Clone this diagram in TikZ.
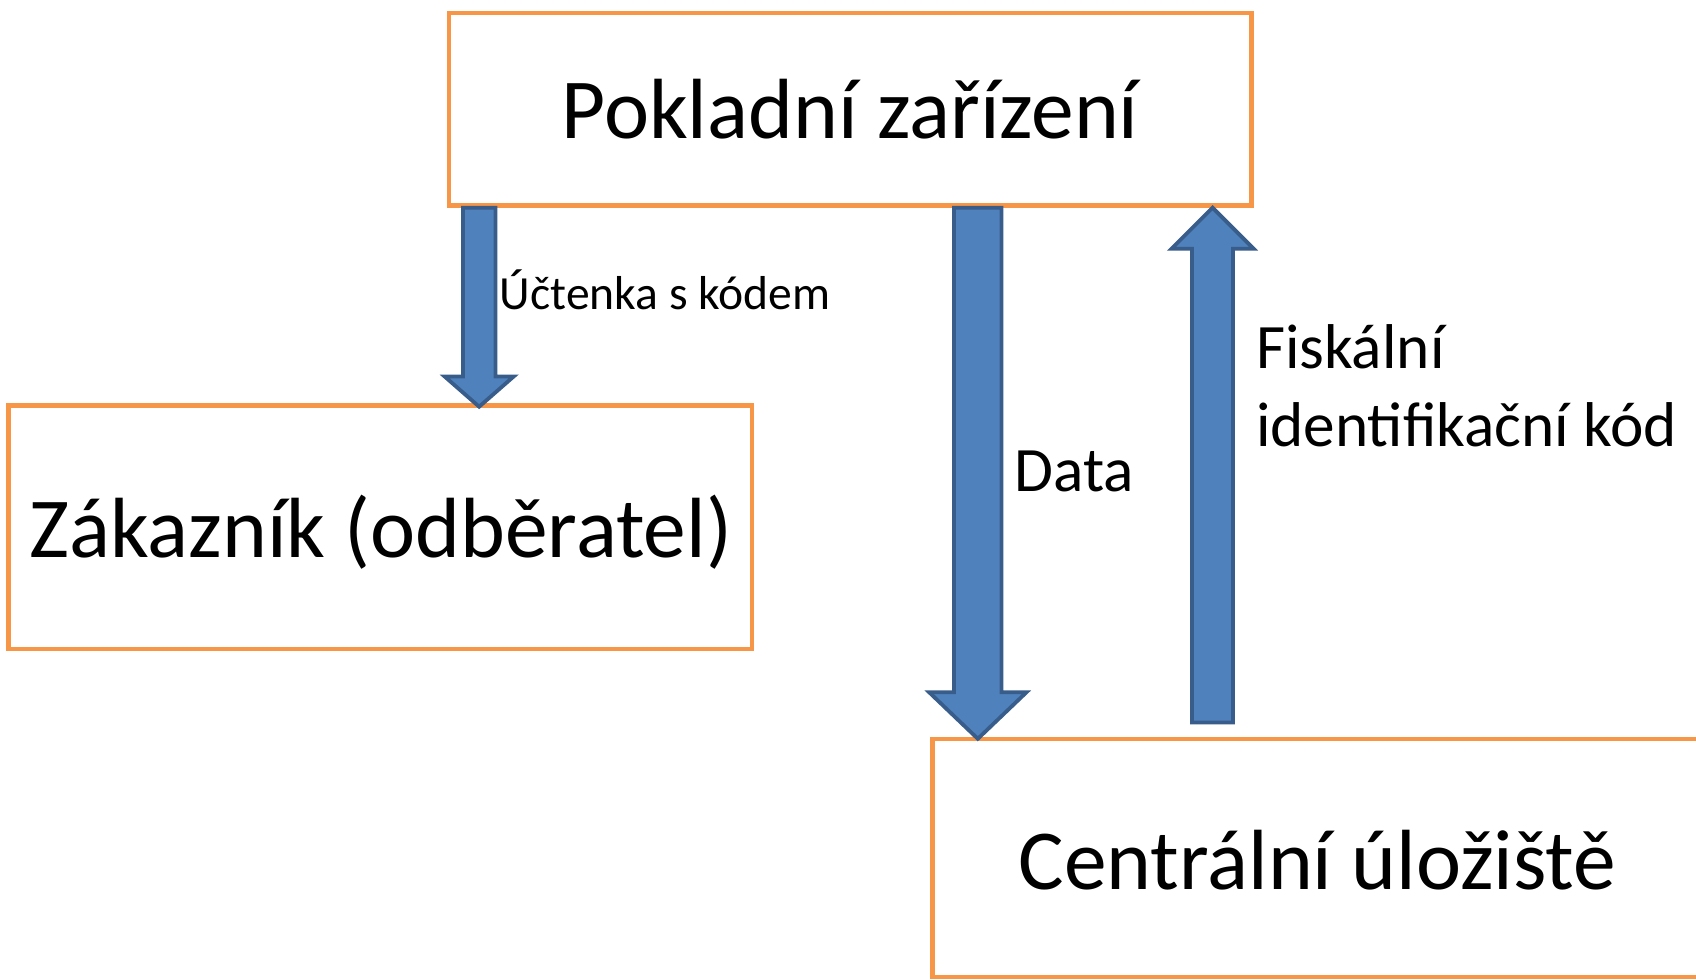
\documentclass[tikz,border=0pt]{standalone}
\usepackage{fontspec}
\setmainfont{Carlito}
\usetikzlibrary{calc}
\definecolor{boxorange}{HTML}{F79646}
\definecolor{arrowfill}{HTML}{4F81BD}
\definecolor{arrowline}{HTML}{385D8A}
% #1 start, #2 tip, #3 half shaft width, #4 half head width, #5 head base offset (y, from tip)
\newcommand{\myblockarrow}[5]{%
  \draw[blockarrow] ($(#1)+(-#3,0)$) -- ($(#1)+(#3,0)$) -- ($(#2)+(#3,#5)$) -- ($(#2)+(#4,#5)$)
    -- (#2) -- ($(#2)+(-#4,#5)$) -- ($(#2)+(-#3,#5)$) -- cycle;}
\begin{document}
\begin{tikzpicture}[x=1pt,y=-1pt,
  box/.style={draw=boxorange, line width=4pt, fill=white, inner sep=0pt, rectangle},
  blockarrow/.style={fill=arrowfill, draw=arrowline, line width=3.5pt, line join=miter},
  bigtext/.style={font=\fontsize{79}{94}\selectfont, inner sep=0pt, anchor=base},
  midtext/.style={font=\fontsize{58.5}{72}\selectfont, inner sep=0pt, anchor=base west, align=left},
  smalltext/.style={font=\fontsize{44}{53}\selectfont, inner sep=0pt, anchor=base west}]
\clip (0,0) rectangle (1568,906);
\fill[white] (0,0) rectangle (1568,906);
% boxes
\node[box, minimum width=742pt, minimum height=178pt] (pokladna) at (786,101) {};
\node[box, minimum width=687pt, minimum height=225pt] (zakaznik) at (351.5,487.5) {};
\node[box, minimum width=738pt, minimum height=220pt] (uloziste) at (1231,793) {};
% box texts
\node[bigtext] (tpokladna) at (786,128) {Pokladní zařízení};
\node[bigtext] (tzakaznik) at (352,515) {Zákazník (odběratel)};
\node[bigtext] (tuloziste) at (1218,822) {Centrální úložiště};
% arrow end points
\coordinate (a1s) at (443,192);
\coordinate (a1t) at (443,376);
\coordinate (a2s) at (904,192);
\coordinate (a2t) at (904,683);
\coordinate (a3s) at (1121,668);
\coordinate (a3t) at (1121,192);
\myblockarrow{a1s}{a1t}{15}{32}{-28}
\myblockarrow{a2s}{a2t}{22}{45}{-43}
\myblockarrow{a3s}{a3t}{19}{38}{38}
% labels
\node[smalltext] (l1) at (462,286) {Účtenka s kódem};
\node[midtext] (l2) at (938,454) {Data};
\node[midtext] (l3) at (1161,413) {Fiskální\\identifikační kód};
\end{tikzpicture}
\end{document}
